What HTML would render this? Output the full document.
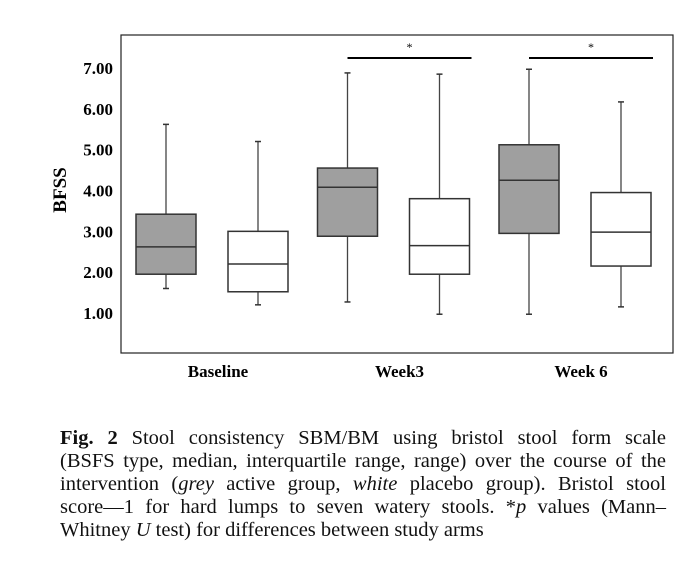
<!DOCTYPE html>
<html><head><meta charset="utf-8"><style>
body{margin:0;width:700px;height:576px;background:#fff;position:relative;overflow:hidden}
svg{position:absolute;left:0;top:0}
#cap{position:absolute;left:60px;top:427px;width:606px;font-family:"Liberation Serif",serif;font-size:20.5px;line-height:23px;color:#111}
#cap div{text-align:justify;text-align-last:justify;white-space:nowrap}
#cap div.last{text-align-last:left}
</style></head><body>
<svg id="chart" width="700" height="420" xmlns="http://www.w3.org/2000/svg" font-family="Liberation Serif, serif"></svg>
<div id="cap">
<div><b>Fig. 2</b> Stool consistency SBM/BM using bristol stool form scale</div>
<div>(BSFS type, median, interquartile range, range) over the course of the</div>
<div>intervention (<i>grey</i> active group, <i>white</i> placebo group). Bristol stool</div>
<div>score—1 for hard lumps to seven watery stools. *<i>p</i> values (Mann–</div>
<div class="last">Whitney <i>U</i> test) for differences between study arms</div>
</div>
<script>
const categories=["Baseline","Week3","Week 6"];
const yTicks=[1,2,3,4,5,6,7];
const activeMin=[1.6,1.27,0.97], activeQ1=[1.95,2.88,2.95], activeMed=[2.62,4.08,4.25], activeQ3=[3.42,4.55,5.12], activeMax=[5.62,6.88,6.97];
const placeboMin=[1.2,0.97,1.15], placeboQ1=[1.52,1.95,2.15], placeboMed=[2.2,2.65,2.98], placeboQ3=[3.0,3.8,3.95], placeboMax=[5.2,6.85,6.17];
const significant=[false,true,true];
const svg=document.getElementById('chart');
const NS='http://www.w3.org/2000/svg';
const y=v=>313-(v-1)*40.83;
const xc=i=>212+i*181.5;
function mk(t,a,p){const e=document.createElementNS(NS,t);for(const k in a)e.setAttribute(k,a[k]);(p||svg).appendChild(e);return e;}
const frame=mk('rect',{x:121,y:35,width:552,height:318,fill:'none',stroke:'#222','stroke-width':1.2});


yTicks.forEach(v=>{const t=mk('text',{x:113,y:y(v)+6,'text-anchor':'end','font-size':17,'font-weight':'bold'});t.textContent=v.toFixed(2);

});
const yt=mk('text',{x:0,y:0,transform:'translate(66,190) rotate(-90)','text-anchor':'middle','font-size':19,'font-weight':'bold'});yt.textContent='BFSS';


function box(cx,w,mn,q1,md,q3,mx,fill,name){
 const g=mk('g',{});
 
 
 const st='#333';
 mk('line',{x1:cx,x2:cx,y1:y(mx),y2:y(mn),stroke:'#444','stroke-width':1.3},g);
 mk('line',{x1:cx-3,x2:cx+3,y1:y(mx),y2:y(mx),stroke:st,'stroke-width':1.5},g);
 mk('line',{x1:cx-3,x2:cx+3,y1:y(mn),y2:y(mn),stroke:st,'stroke-width':1.5},g);
 mk('rect',{x:cx-w/2,y:y(q3),width:w,height:y(q1)-y(q3),fill:fill,stroke:st,'stroke-width':1.5},g);
 mk('line',{x1:cx-w/2,x2:cx+w/2,y1:y(md),y2:y(md),stroke:st,'stroke-width':1.5},g);
}
categories.forEach((c,i)=>{
 const a=xc(i)-46,p=xc(i)+46;
 box(a,60,activeMin[i],activeQ1[i],activeMed[i],activeQ3[i],activeMax[i],'#9f9f9f','box-active-'+i);
 box(p,60,placeboMin[i],placeboQ1[i],placeboMed[i],placeboQ3[i],placeboMax[i],'#fff','box-placebo-'+i);
 const t=mk('text',{x:xc(i)+6,y:377,'text-anchor':'middle','font-size':17,'font-weight':'bold'});t.textContent=c;
 
 
 if(significant[i]){
  const l=mk('line',{x1:a,x2:p+32,y1:58,y2:58,stroke:'#000','stroke-width':2});
  
  
  const s=mk('text',{x:(a+p+32)/2,y:51,'text-anchor':'middle','font-size':12});s.textContent='*';
  
  
 }
});
</script>
</body></html>
